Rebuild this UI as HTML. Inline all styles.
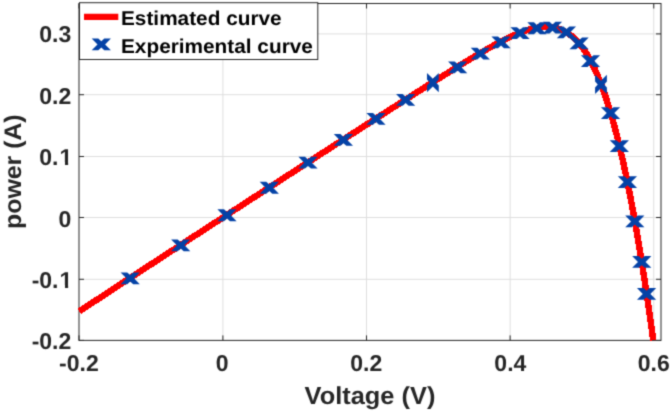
<!DOCTYPE html>
<html><head><meta charset="utf-8"><style>
html,body{margin:0;padding:0;background:#fff;}
body{width:672px;height:412px;overflow:hidden;}
svg{display:block;}
text{font-family:"Liberation Sans",sans-serif;font-weight:bold;text-rendering:geometricPrecision;}
</style></head><body>
<svg width="672" height="412" viewBox="0 0 672 412">
<defs><filter id="bl" x="0" y="0" width="100%" height="100%" color-interpolation-filters="sRGB"><feConvolveMatrix order="3" kernelMatrix="1 4 1 4 16 4 1 4 1" divisor="36" edgeMode="duplicate"/></filter></defs>
<g filter="url(#bl)"><rect width="672" height="412" fill="#fff"/>
<path d="M222.90,3.50V340.40M366.52,3.50V340.40M510.14,3.50V340.40M653.76,3.50V340.40M79.00,33.90H661.00M79.00,94.70H661.00M79.00,156.50H661.00M79.00,217.50H661.00M79.00,279.30H661.00" stroke="#dedede" stroke-width="1" fill="none"/>
<path d="M79.00,340.40v-5M79.00,3.50v5M222.90,340.40v-5M222.90,3.50v5M366.52,340.40v-5M366.52,3.50v5M510.14,340.40v-5M510.14,3.50v5M653.76,340.40v-5M653.76,3.50v5M79.00,33.90h5M661.00,33.90h-5M79.00,94.70h5M661.00,94.70h-5M79.00,156.50h5M661.00,156.50h-5M79.00,217.50h5M661.00,217.50h-5M79.00,279.30h5M661.00,279.30h-5M79.00,340.40h5M661.00,340.40h-5" stroke="#262626" stroke-width="1" fill="none"/>
<rect x="79.0" y="3.5" width="582.0" height="336.9" stroke="#262626" stroke-width="1" fill="none"/>
<g><path d="M79.28,311.29 143.91,268.97 201.36,231.51 258.81,194.20 316.25,157.03 373.70,120.02 416.79,92.44 431.15,83.32 445.51,74.28 459.87,65.36 467.05,60.97 474.24,56.65 481.42,52.41 488.60,48.30 495.78,44.33 502.96,40.56 510.14,37.05 513.73,35.41 517.14,33.94 521.81,32.08 526.12,30.56 530.43,29.25 534.38,28.26 538.15,27.53 540.12,27.24 541.92,27.04 545.33,26.83 547.12,26.82 548.74,26.88 551.07,27.06 553.23,27.36 555.38,27.78 557.36,28.28 559.51,28.97 561.48,29.73 563.46,30.62 565.43,31.66 567.41,32.85 569.20,34.06 571.18,35.55 572.97,37.06 574.77,38.72 576.56,40.53 578.36,42.50 580.15,44.64 581.95,46.95 583.57,49.19 585.36,51.85 586.98,54.41 588.59,57.14 590.21,60.03 591.82,63.09 593.44,66.32 595.06,69.74 596.67,73.34 598.29,77.13 599.72,80.65 601.34,84.81 602.95,89.17 604.57,93.73 606.01,97.96 609.06,107.51 612.11,117.83 615.16,128.95 618.03,140.17 621.09,152.90 623.96,165.65 627.01,180.03 629.88,194.36 632.94,210.44 635.81,226.39 638.68,243.11 641.55,260.63 644.42,278.94 647.48,299.26 650.35,319.20 653.27,340.30" stroke="#ff0000" stroke-width="6.4" fill="none" stroke-linejoin="round" shape-rendering="crispEdges"/></g>
<g fill="#0442a6" shape-rendering="auto"><polygon points="120.59,272.38 127.19,272.38 130.19,275.08 133.19,272.38 139.79,272.38 133.99,278.28 139.79,284.18 133.19,284.18 130.19,281.48 127.19,284.18 120.59,284.18 126.39,278.28"/><polygon points="171.08,239.45 177.68,239.45 180.68,242.15 183.68,239.45 190.28,239.45 184.48,245.35 190.28,251.25 183.68,251.25 180.68,248.55 177.68,251.25 171.08,251.25 176.88,245.35"/><polygon points="217.39,209.34 223.99,209.34 226.99,212.04 229.99,209.34 236.59,209.34 230.79,215.24 236.59,221.14 229.99,221.14 226.99,218.44 223.99,221.14 217.39,221.14 223.19,215.24"/><polygon points="259.69,181.86 266.29,181.86 269.29,184.56 272.29,181.86 278.89,181.86 273.09,187.76 278.89,193.66 272.29,193.66 269.29,190.96 266.29,193.66 259.69,193.66 265.49,187.76"/><polygon points="298.39,156.79 304.99,156.79 307.99,159.49 310.99,156.79 317.59,156.79 311.79,162.69 317.59,168.59 310.99,168.59 307.99,165.89 304.99,168.59 298.39,168.59 304.19,162.69"/><polygon points="333.80,134.03 340.40,134.03 343.40,136.73 346.40,134.03 353.00,134.03 347.20,139.93 353.00,145.83 346.40,145.83 343.40,143.13 340.40,145.83 333.80,145.83 339.60,139.93"/><polygon points="366.40,112.94 373.00,112.94 376.00,115.64 379.00,112.94 385.60,112.94 379.80,118.84 385.60,124.74 379.00,124.74 376.00,122.04 373.00,124.74 366.40,124.74 372.20,118.84"/><polygon points="396.06,93.98 402.66,93.98 405.66,96.68 408.66,93.98 415.26,93.98 409.46,99.88 415.26,105.78 408.66,105.78 405.66,103.08 402.66,105.78 396.06,105.78 401.86,99.88"/><polygon points="426.97,72.98 426.97,79.58 429.67,82.58 426.97,85.58 426.97,92.18 432.87,86.38 438.77,92.18 438.77,85.58 436.07,82.58 438.77,79.58 438.77,72.98 432.87,78.78"/><polygon points="448.05,61.41 454.65,61.41 457.65,64.11 460.65,61.41 467.25,61.41 461.45,67.31 467.25,73.21 460.65,73.21 457.65,70.51 454.65,73.21 448.05,73.21 453.85,67.31"/><polygon points="470.74,47.73 477.34,47.73 480.34,50.43 483.34,47.73 489.94,47.73 484.14,53.63 489.94,59.53 483.34,59.53 480.34,56.83 477.34,59.53 470.74,59.53 476.54,53.63"/><polygon points="491.42,36.44 498.02,36.44 501.02,39.14 504.02,36.44 510.62,36.44 504.82,42.34 510.62,48.24 504.02,48.24 501.02,45.54 498.02,48.24 491.42,48.24 497.22,42.34"/><polygon points="510.38,27.14 516.98,27.14 519.98,29.84 522.98,27.14 529.58,27.14 523.78,33.04 529.58,38.94 522.98,38.94 519.98,36.24 516.98,38.94 510.38,38.94 516.18,33.04"/><polygon points="527.33,22.36 533.93,22.36 536.93,25.06 539.93,22.36 546.53,22.36 540.73,28.26 546.53,34.16 539.93,34.16 536.93,31.46 533.93,34.16 527.33,34.16 533.13,28.26"/><polygon points="542.91,21.69 549.51,21.69 552.51,24.39 555.51,21.69 562.11,21.69 556.31,27.59 562.11,33.49 555.51,33.49 552.51,30.79 549.51,33.49 542.91,33.49 548.71,27.59"/><polygon points="556.84,26.42 563.44,26.42 566.44,29.12 569.44,26.42 576.04,26.42 570.24,32.32 576.04,38.22 569.44,38.22 566.44,35.52 563.44,38.22 556.84,38.22 562.64,32.32"/><polygon points="569.48,37.55 576.08,37.55 579.08,40.25 582.08,37.55 588.68,37.55 582.88,43.45 588.68,49.35 582.08,49.35 579.08,46.65 576.08,49.35 569.48,49.35 575.28,43.45"/><polygon points="580.90,55.21 587.50,55.21 590.50,57.91 593.50,55.21 600.10,55.21 594.30,61.11 600.10,67.01 593.50,67.01 590.50,64.31 587.50,67.01 580.90,67.01 586.70,61.11"/><polygon points="595.08,74.83 595.08,81.43 597.78,84.43 595.08,87.43 595.08,94.03 600.98,88.23 606.88,94.03 606.88,87.43 604.18,84.43 606.88,81.43 606.88,74.83 600.98,80.63"/><polygon points="600.93,107.13 607.53,107.13 610.53,109.83 613.53,107.13 620.13,107.13 614.33,113.03 620.13,118.93 613.53,118.93 610.53,116.23 607.53,118.93 600.93,118.93 606.73,113.03"/><polygon points="609.76,140.16 616.36,140.16 619.36,142.86 622.36,140.16 628.96,140.16 623.16,146.06 628.96,151.96 622.36,151.96 619.36,149.26 616.36,151.96 609.76,151.96 615.56,146.06"/><polygon points="617.81,176.21 624.41,176.21 627.41,178.91 630.41,176.21 637.01,176.21 631.21,182.11 637.01,188.01 630.41,188.01 627.41,185.31 624.41,188.01 617.81,188.01 623.61,182.11"/><polygon points="625.20,215.52 631.80,215.52 634.80,218.22 637.80,215.52 644.40,215.52 638.60,221.42 644.40,227.32 637.80,227.32 634.80,224.62 631.80,227.32 625.20,227.32 631.00,221.42"/><polygon points="632.17,256.04 638.77,256.04 641.77,258.74 644.77,256.04 651.37,256.04 645.57,261.94 651.37,267.84 644.77,267.84 641.77,265.14 638.77,267.84 632.17,267.84 637.97,261.94"/><polygon points="636.98,288.05 643.58,288.05 646.58,290.75 649.58,288.05 656.18,288.05 650.38,293.95 656.18,299.85 649.58,299.85 646.58,297.15 643.58,299.85 636.98,299.85 642.78,293.95"/></g>
<g fill="#262626" font-size="23" text-anchor="end"><text transform="translate(71.30,42.00) scale(1,1.000)">0.3</text><text transform="translate(71.30,104.00) scale(1,1.000)">0.2</text><text transform="translate(72.40,165.00) scale(1,1.000)">0.<tspan dx="1.10">1</tspan></text><text transform="translate(71.30,227.00) scale(1,1.000)">0</text><text transform="translate(72.40,288.00) scale(1,1.000)">-0.<tspan dx="1.10">1</tspan></text><text transform="translate(71.30,349.00) scale(1,1.000)">-0.2</text></g>
<g fill="#262626" font-size="23" text-anchor="middle"><text transform="translate(78.90,371.00) scale(1,1.000)">-0.2</text><text transform="translate(222.10,371.00) scale(1,1.000)">0</text><text transform="translate(366.20,371.00) scale(1,1.000)">0.2</text><text transform="translate(510.35,371.00) scale(1,1.000)">0.4</text><text transform="translate(653.75,371.00) scale(1,1.000)">0.6</text></g>
<g fill="#fff"><rect x="60.21" y="162.00" width="4.77" height="3.50"/><rect x="68.13" y="162.00" width="4.28" height="3.50"/><rect x="60.21" y="285.00" width="4.77" height="3.50"/><rect x="68.13" y="285.00" width="4.28" height="3.50"/></g>
<text transform="translate(370.0,403.8) scale(1.016,0.982)" fill="#262626" font-size="25" text-anchor="middle">Voltage (V)</text>
<text transform="translate(21.3,171.65) rotate(-90) scale(0.994,0.957)" fill="#262626" font-size="25" text-anchor="middle">power (A)</text>
<rect x="79.5" y="2.7" width="238.3" height="56.8" fill="#fff" stroke="#262626" stroke-width="1"/>
<path d="M84,16.9H118.3" stroke="#ff0000" stroke-width="6.4"/>
<g fill="#0442a6" shape-rendering="auto"><polygon points="91.70,38.50 98.30,38.50 101.30,41.20 104.30,38.50 110.90,38.50 105.10,44.40 110.90,50.30 104.30,50.30 101.30,47.60 98.30,50.30 91.70,50.30 97.50,44.40"/></g>
<text transform="translate(121,25.1) scale(1.0143,0.975)" fill="#000" font-size="20.5">Estimated curve</text>
<text transform="translate(121,52.9) scale(1.0143,0.975)" fill="#000" font-size="20.5">Experimental curve</text>
</g></svg>
</body></html>
